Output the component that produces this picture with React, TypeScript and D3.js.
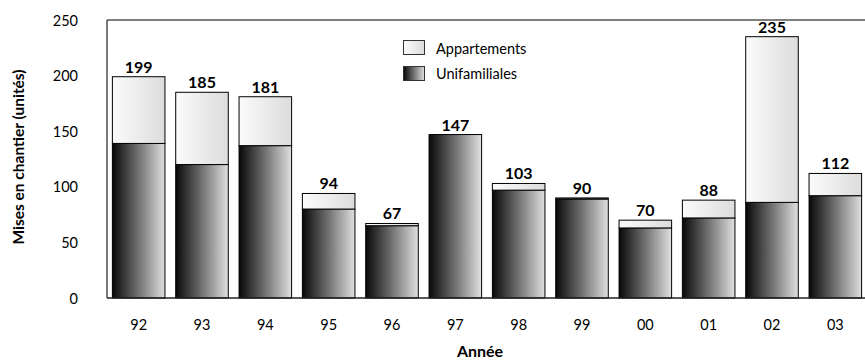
import React from "react";
import * as d3 from "d3";

const years = ["92", "93", "94", "95", "96", "97", "98", "99", "00", "01", "02", "03"];
const unifamiliales = [139, 120, 137, 80, 65, 147, 97, 89, 63, 72, 86, 92];
const totals = [199, 185, 181, 94, 67, 147, 103, 90, 70, 88, 235, 112];
const appartements = totals.map((t, i) => t - unifamiliales[i]);
const yTicks = [0, 50, 100, 150, 200, 250];

const W = 865, H = 362;
const left = 107, top = 20, bottom = 298, right = 867;
const FONT = "Lato, 'Open Sans', sans-serif";

export default function App() {
  const x = d3.scaleBand<string>().domain(years).range([left, right]).paddingInner(0.17).paddingOuter(0.085);
  const y = d3.scaleLinear().domain([0, 250]).range([bottom, top]);
  const bw = x.bandwidth();
  return (
    <svg width={W} height={H} style={{ position: "absolute", left: 0, top: 0, fontFamily: FONT }}>
      <defs>
        <linearGradient id="gDark" x1="0" x2="1" y1="0" y2="0">
          <stop offset="0" stopColor="#080808" />
          <stop offset="0.5" stopColor="#727272" />
          <stop offset="1" stopColor="#e0e0e0" />
        </linearGradient>
        <linearGradient id="gLight" x1="0" x2="1" y1="0" y2="0">
          <stop offset="0" stopColor="#fbfbfb" />
          <stop offset="1" stopColor="#dcdcdc" />
        </linearGradient>
      </defs>
      <rect x={0} y={0} width={W} height={H} fill="#fff" />
      {/* frame */}
      <line x1={left} x2={W} y1={top} y2={top} stroke="#555" strokeWidth={1.5} />
      <line x1={left} x2={left} y1={top} y2={bottom} stroke="#222" strokeWidth={1.2} />
      {/* bars */}
      {years.map((yr, i) => {
        const x0 = x(yr)!;
        return (
          <g key={yr}>
            <rect x={x0} y={y(unifamiliales[i])} width={bw} height={y(0) - y(unifamiliales[i])} fill="url(#gDark)" stroke="#000" strokeWidth={1} />
            {appartements[i] > 0 && (
              <rect x={x0} y={y(totals[i])} width={bw} height={y(unifamiliales[i]) - y(totals[i])} fill="url(#gLight)" stroke="#000" strokeWidth={1} />
            )}
            <text x={x0 + bw / 2} y={y(totals[i]) - 4} textAnchor="middle" fontSize={16} fontWeight="bold" fill="#000">{totals[i]}</text>
            <text x={x0 + bw / 2} y={330} textAnchor="middle" fontSize={14.5} fill="#000">{yr}</text>
          </g>
        );
      })}
      <line x1={left} x2={W} y1={bottom} y2={bottom} stroke="#222" strokeWidth={1.5} />
      {/* y ticks */}
      {yTicks.map((t) => (
        <text key={t} x={78} y={y(t) + 5.5} textAnchor="end" fontSize={14.5} fill="#000">{t}</text>
      ))}
      <text transform={`translate(24,${157}) rotate(-90)`} textAnchor="middle" fontSize={15.5} fontWeight="bold" fill="#000">Mises en chantier (unités)</text>
      <text x={480} y={357} textAnchor="middle" fontSize={16} fontWeight="bold" fill="#000">Année</text>
      {/* legend */}
      <rect x={403.5} y={40.5} width={21} height={14} fill="url(#gLight)" stroke="#333" />
      <text x={436} y={54} fontSize={14.5} fill="#000">Appartements</text>
      <rect x={403.5} y={66.5} width={21} height={14} fill="url(#gDark)" stroke="#333" />
      <text x={436} y={79} fontSize={14.5} fill="#000">Unifamiliales</text>
    </svg>
  );
}
